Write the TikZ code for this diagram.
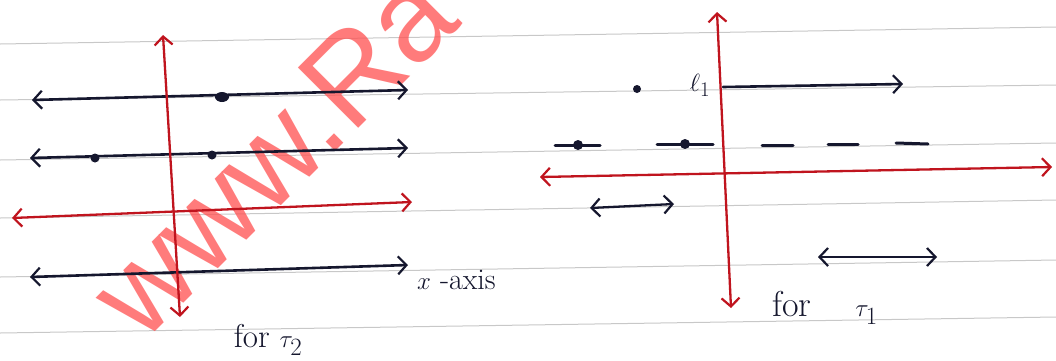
\documentclass[tikz,border=0pt]{standalone}
\usepackage{fontspec}
\usetikzlibrary{arrows.meta}
\newfontfamily\wmfont{Liberation Sans}
\definecolor{ink}{HTML}{15172E}
\definecolor{redink}{HTML}{C0141E}
\definecolor{wmred}{HTML}{FF5050}
\definecolor{rule}{HTML}{C8C8C8}
\tikzset{
  barb/.style={>={Straight Barb[length=8.5pt,width=18pt,line width=2.2pt]}},
  inkline/.style={barb, draw=ink, line width=2.6pt, line cap=round},
  redline/.style={barb, draw=redink, line width=2.3pt, line cap=round},
  ruleline/.style={draw=rule, line width=1pt},
  dashseg/.style={draw=ink, line width=3pt, line cap=round},
  lbl/.style={text=ink, inner sep=0pt, font=\fontsize{30}{32}\selectfont},
}
\begin{document}
\begin{tikzpicture}[x=1pt,y=-1pt]
\useasboundingbox[fill=white] (0,0) rectangle (1056,360);
% notebook rules
\draw[ruleline] (0,44) -- (1056,27);
\draw[ruleline] (0,100) -- (1056,85);
\draw[ruleline] (0,160) -- (1056,143);
\draw[ruleline] (0,218) -- (1056,200);
\draw[ruleline] (0,277) -- (1056,260);
\draw[ruleline] (0,333) -- (1056,317);
% watermark
\node[anchor=base west, rotate=45, inner sep=0pt, text=wmred, opacity=0.75,
      font=\wmfont\fontsize{124}{124}\selectfont] (wm) at (142,345) {www.Ra};
% ---------- left diagram ----------
\coordinate (la1) at (32,100);  \coordinate (lb1) at (408,90);
\coordinate (la2) at (30,158);  \coordinate (lb2) at (408,148);
\coordinate (la3) at (12,218);  \coordinate (lb3) at (412,202);
\coordinate (la4) at (30,277);  \coordinate (lb4) at (408,265);
\coordinate (vtop) at (163,35); \coordinate (vbot) at (180,317);
\draw[inkline,<->] (la1) -- (lb1);
\draw[inkline,<->] (la2) -- (lb2);
\draw[redline,<->] (la3) -- (lb3);
\draw[inkline,<->] (la4) -- (lb4);
\draw[redline,<->] (vtop) -- (vbot);
\fill[ink] (222,97) ellipse (7pt and 5pt);
\fill[ink] (95,158) circle (4.5pt);
\fill[ink] (212,155) circle (4.5pt);
\node[lbl, anchor=west] (xaxis) at (417,280) {$x$ -axis};
\node[lbl, font=\fontsize{33}{35}\selectfont] (for2) at (268,340) {for $\tau_2$};
% ---------- right diagram ----------
\coordinate (rtop) at (717,12); \coordinate (rbot) at (731,308);
\coordinate (hl) at (540,177);  \coordinate (hr) at (1052,167);
\draw[redline,<->] (hl) -- (hr);
\draw[redline,<->] (rtop) -- (rbot);
\fill[ink] (637,89) circle (4pt);
\node[lbl] (p1) at (700,85) {$\ell_1$};
\coordinate (pa) at (723,87); \coordinate (pb) at (903,84);
\draw[inkline,->] (pa) -- (pb);
% dashed row
\draw[dashseg] (555,145) -- (600,145);
\draw[dashseg] (657,144) -- (713,144);
\draw[dashseg] (762,145) -- (793,145);
\draw[dashseg] (828,144) -- (858,144);
\draw[dashseg] (896,143) -- (928,144);
\fill[ink] (578,145) circle (5pt);
\fill[ink] (685,144) circle (5pt);
% small double arrows
\coordinate (sa) at (590,208); \coordinate (sb) at (674,204);
\draw[inkline,<->,line width=2.3pt] (sa) -- (sb);
\coordinate (ta) at (818,257); \coordinate (tb) at (937,257);
\draw[inkline,<->,line width=2.3pt] (ta) -- (tb);
\node[lbl, font=\fontsize{36}{38}\selectfont, anchor=west] (for1) at (772,308) {for\hspace{44pt}$\tau_1$};
\end{tikzpicture}
\end{document}
